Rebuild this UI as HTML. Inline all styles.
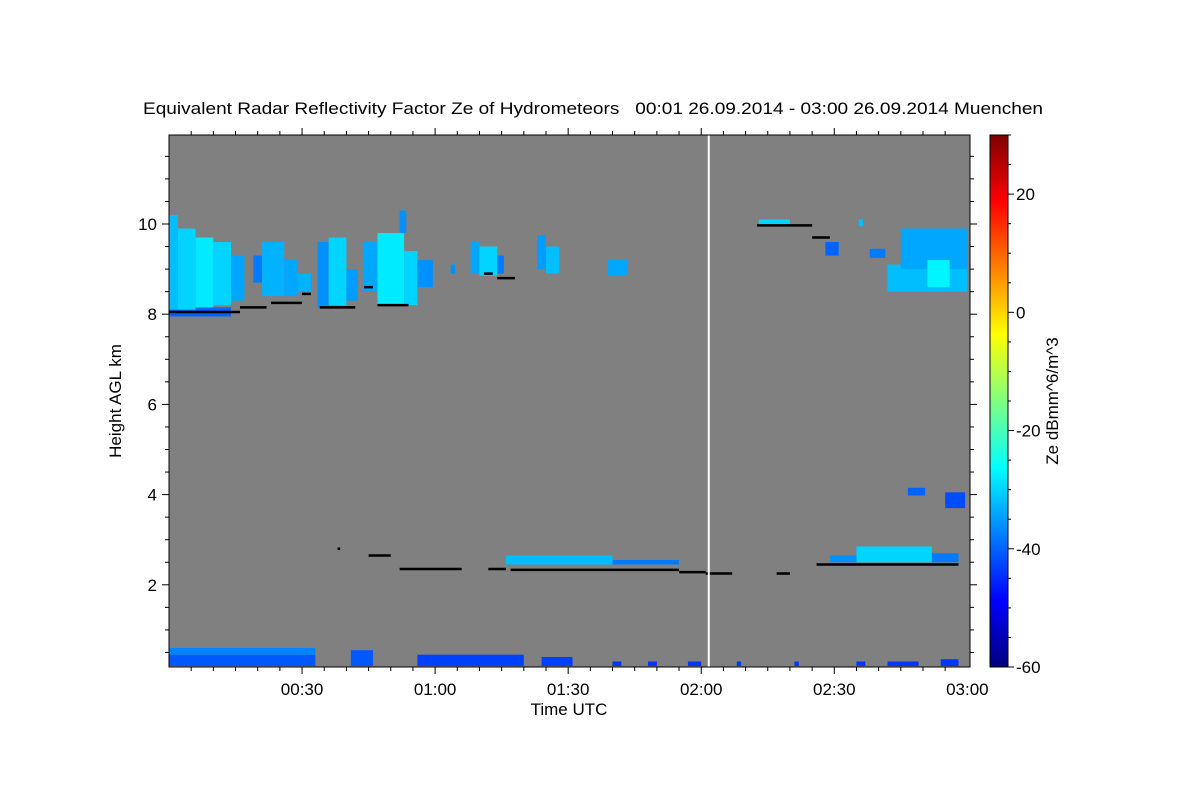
<!DOCTYPE html>
<html><head><meta charset="utf-8"><style>
body{margin:0;background:#fff;}
svg text{font-family:"Liberation Sans",Arial,sans-serif;fill:#000;}
</style></head><body>
<svg id="chart" width="1200" height="800" viewBox="0 0 1200 800" xmlns="http://www.w3.org/2000/svg">
<defs>
<linearGradient id="jet" x1="0" y1="1" x2="0" y2="0">
<stop offset="0" stop-color="#000080"/><stop offset="0.125" stop-color="#0000ff"/>
<stop offset="0.375" stop-color="#00ffff"/><stop offset="0.625" stop-color="#ffff00"/>
<stop offset="0.875" stop-color="#ff0000"/><stop offset="1" stop-color="#800000"/>
</linearGradient>
<clipPath id="pc"><rect x="169" y="135" width="801" height="532"/></clipPath>
</defs>
<text x="143" y="114" font-size="17" textLength="900" lengthAdjust="spacingAndGlyphs" xml:space="preserve">Equivalent Radar Reflectivity Factor Ze of Hydrometeors   00:01 26.09.2014 - 03:00 26.09.2014 Muenchen</text>
<rect x="169" y="135" width="801" height="532" fill="#808080"/>
<g id="marks" clip-path="url(#pc)"></g>
<rect x="169" y="135" width="801" height="532" fill="none" stroke="#000" stroke-width="1"/>
<g id="axes"></g>
<text x="569" y="715" font-size="17" text-anchor="middle">Time UTC</text>
<text transform="translate(121,401) rotate(-90)" font-size="17" text-anchor="middle">Height AGL km</text>
<rect x="990" y="135" width="18" height="532" fill="url(#jet)" stroke="#000" stroke-width="1"/>
<text transform="translate(1058,401) rotate(-90)" font-size="17" text-anchor="middle">Ze dBmm^6/m^3</text>
</svg>
<script>
// axis data
const xTickMinutes=[30,60,90,120,150,180];
const xTickLabels=["00:30","01:00","01:30","02:00","02:30","03:00"];
const yTickValues=[2,4,6,8,10];
const cbTickValues=[20,0,-20,-40,-60];
// echo rectangles: time start/end (min), base/top (km), Ze (dBZ)
const echoStart=[0,0,2,6,10,14,19,21,26,29,33.5,36,40,43.7,47,53,56,52,63.5,68,70,74,83,85,99,133,155.5,148,158,162,165,171,76,100,149,155,172,166.6,175,0,0,41,56,84,100,108,117,128,141,155,162,174];
const echoEnd=[14,2,6,10,14,17,21,26,29,32,36,40,42.6,47,53,56,59.5,53.5,64.5,70,74,75.5,85,88,103.5,140,156.5,151,161.5,180,180,176,100,115,155,172,178,170.5,179.5,33,33,46,80,91,102,110,120,129,142,157,169,178];
const echoBase=[7.95,8.1,8.1,8.15,8.2,8.3,8.7,8.4,8.4,8.5,8.15,8.2,8.3,8.5,8.2,8.2,8.6,9.8,8.9,8.9,8.85,8.9,9.0,8.9,8.85,9.95,9.95,9.3,9.25,8.5,9.0,8.6,2.45,2.45,2.5,2.5,2.5,3.98,3.7,0.2,0.45,0.2,0.2,0.2,0.2,0.2,0.2,0.2,0.2,0.2,0.2,0.2];
const echoTop=[8.15,10.2,9.9,9.7,9.6,9.3,9.3,9.6,9.2,8.9,9.6,9.7,9.0,9.6,9.8,9.4,9.2,10.3,9.1,9.6,9.5,9.3,9.75,9.5,9.2,10.1,10.1,9.6,9.45,9.1,9.9,9.2,2.65,2.55,2.65,2.85,2.7,4.15,4.05,0.45,0.6,0.55,0.45,0.4,0.3,0.3,0.3,0.3,0.3,0.3,0.3,0.35];
const echoZe=[-40,-32,-30,-28,-30,-34,-38,-33,-34,-33,-36,-30,-35,-34,-28,-30,-36,-36,-36,-34,-30,-38,-35,-32,-34,-30,-32,-40,-38,-32,-34,-27,-32,-38,-36,-30,-38,-40,-42,-41,-37,-41,-43,-43,-44,-44,-44,-44,-44,-44,-44,-44];
// cloud base detections (black)
const baseStart=[0,16,23,30,34,44,47,71,74,38,45,52,72,77,115,121,137,146,132.6,145];
const baseEnd=[16,22,30,32,42,46,54,73,78,38.6,50,66,76,115,121,127,140,178,145,149];
const baseH=[8.05,8.15,8.25,8.45,8.15,8.6,8.2,8.9,8.8,2.8,2.65,2.35,2.35,2.33,2.28,2.25,2.25,2.45,9.97,9.7];
const whiteLineMin=121.7;
const X=t=>169+t*(801/180.6);
const Y=h=>675-h*45.1;
const CB=v=>667-(v+60)*(532/90);
function jet(v){let t=(v+60)/90;const c=x=>Math.round(255*Math.max(0,Math.min(1,x)));
 return `rgb(${c(1.5-Math.abs(4*t-3))},${c(1.5-Math.abs(4*t-2))},${c(1.5-Math.abs(4*t-1))})`;}
const NS="http://www.w3.org/2000/svg";
const marks=document.getElementById('marks'),axes=document.getElementById('axes');
function mk(p,tag,a){const e=document.createElementNS(NS,tag);for(const k in a)e.setAttribute(k,a[k]);p.appendChild(e);return e;}
for(let i=0;i<echoStart.length;i++){
 const r=mk(marks,'rect',{x:X(echoStart[i]),y:Y(echoTop[i]),width:X(echoEnd[i])-X(echoStart[i]),height:Y(echoBase[i])-Y(echoTop[i]),fill:jet(echoZe[i])});
 
 
}
for(let i=0;i<baseStart.length;i++){
 const l=mk(marks,'line',{x1:X(baseStart[i]),y1:Y(baseH[i]),x2:X(baseEnd[i]),y2:Y(baseH[i]),stroke:'#000','stroke-width':2.5});
 
 
}
const wl=mk(marks,'line',{x1:X(whiteLineMin),y1:135,x2:X(whiteLineMin),y2:667,stroke:'#fff','stroke-width':2});


// ticks
for(let m=5;m<180;m+=5){const big=m%30===0;
 mk(axes,'line',{x1:X(m),y1:667,x2:X(m),y2:667+(big?7:4),stroke:'#000'});
 mk(axes,'line',{x1:X(m),y1:135,x2:X(m),y2:135-(big?7:4),stroke:'#000'});}
for(let i=0;i<xTickMinutes.length;i++){
 const t=mk(axes,'text',{x:X(xTickMinutes[i]),y:695,'font-size':17,'text-anchor':'middle'});t.textContent=xTickLabels[i];
 
 }
for(let h=0.5;h<12;h+=0.5){const big=h%2===0;
 mk(axes,'line',{x1:169,y1:Y(h),x2:169-(big?7:4),y2:Y(h),stroke:'#000'});
 mk(axes,'line',{x1:970,y1:Y(h),x2:970+(big?7:4),y2:Y(h),stroke:'#000'});}
for(const v of yTickValues){
 const t=mk(axes,'text',{x:157,y:Y(v)+6,'font-size':17,'text-anchor':'end'});t.textContent=v;
 
 }
for(let v=-60;v<=30;v+=5){const big=v%20===0;
 mk(axes,'line',{x1:1008,y1:CB(v),x2:1008+(big?6:3),y2:CB(v),stroke:'#000'});}
for(const v of cbTickValues){
 const t=mk(axes,'text',{x:1016,y:CB(v)+6,'font-size':17});t.textContent=v;
 
 }
</script>
</body></html>
